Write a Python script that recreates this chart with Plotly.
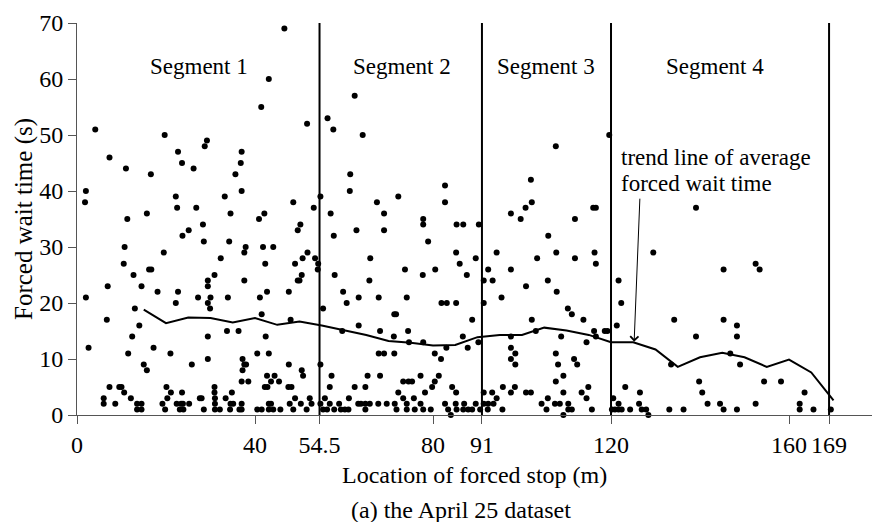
import plotly.graph_objects as go

# ---------------- data ----------------
seg_bounds = [54.5, 91, 120, 169]
seg_names = ["Segment 1", "Segment 2", "Segment 3", "Segment 4"]
seg_label_x = [27.4, 73.0, 105.3, 143.4]

x_tickvals = [0, 40, 54.5, 80, 91, 120, 160, 169]
x_ticktext = ["0", "40", "54.5", "80", "91", "120", "160", "169"]
y_tickvals = [0, 10, 20, 30, 40, 50, 60, 70]

trend_x = [15, 20, 25, 30, 35, 40, 45, 50, 55, 60, 65, 70, 75, 80, 85, 90, 95, 100,
           105, 110, 115, 120, 125, 130, 135, 140, 145, 150, 155, 160, 165, 170]
trend_y = [18.8, 16.4, 17.4, 17.3, 16.5, 17.3, 16.1, 16.7, 16.0, 15.1, 14.3, 13.2, 12.9, 12.4,
           12.5, 13.9, 14.3, 14.3, 15.6, 15.1, 14.3, 13.0, 13.0, 11.7, 8.6, 10.3, 11.1, 10.3,
           8.6, 9.9, 7.6, 2.6]

# segment 1 region (x < 36.5)
pts1 = [(4.1,51),(19.7,50),(29.2,49),(28.7,48),(7.3,46),(22.7,47),(11.0,44),(23.6,45),(26.2,44),
        (35.6,43),(16.6,43),(2.0,40),(1.8,38),(22.2,39),(22.5,37),(26.8,37),(33.2,39),(34.5,36),
        (15.7,36),(11.3,35),(28.3,34),(25.1,33),(23.7,32),(28.5,31),(34.2,31),(10.7,30),(19.5,29),
        (32.3,28),(10.5,27),(16.2,26),(16.7,26),(12.7,25),(30.9,25),(29.4,24),(29.4,23),(6.9,23),
        (14.5,23),(18.1,22),(22.7,22),(2.0,21),(22.2,20),(27.2,21),(30.0,21),(29.4,20),(29.9,19),
        (33.9,21),(13.0,19),(6.7,17),(14.0,16),(33.7,15),(36.3,15),(12.4,14),(29.4,14),(2.6,12),
        (17.2,12),(11.5,11),(21.0,11),(29.4,10),(25.8,9),(15.0,9),(15.7,8),
        (7.3,5),(9.5,5),(10.0,5),(10.6,4),(20.1,5),(21.1,4),(23.6,4),(30.9,5),(30.9,4),(34.8,4),
        (6.0,3),(6.0,2),(8.6,2),(12.1,3),(13.5,2),(14.5,2),(13.5,1),(14.5,1),(19.2,2),(20.3,3),
        (19.8,1),(22.4,2),(23.4,2),(23.8,2),(23.1,1),(23.9,1),(25.2,2),(27.6,3),(28.0,3),(28.5,1),
        (31.0,3),(31.0,2),(31.0,1),(32.1,1),(33.4,3),(34.5,2),(35.1,2),(34.4,1),(36.5,1)]

# 36.5 <= x < 73.5
pts2 = [(46.6,69),(43.1,60),(41.4,55),(51.7,52),(56.3,53),(57.6,51),(62.4,57),(64.2,50),(37.0,47),
        (36.8,45),(37.0,40),(61.4,43),(61.3,40),(54.7,39),(72.2,39),(48.6,38),(53.2,37),(40.9,35),
        (42.1,36),(57.0,36),(67.4,38),(69.0,36),(50.2,34),(49.6,33),(62.8,33),(57.7,32),(69.0,33),
        (37.9,30),(37.6,29),(41.8,30),(44.1,30),(42.3,27),(51.8,29),(50.7,28),(49.0,27),(53.5,28),
        (54.2,27),(54.1,26),(65.9,28),(50.5,25),(50.0,24),(49.6,24),(37.6,24),(57.9,25),(65.7,24),
        (42.7,22),(41.1,21),(47.6,22),(59.8,22),(60.6,20),(63.3,21),(67.8,21),(55.3,19),(41.5,18),
        (48.0,17),(63.3,16),(71.3,18),(71.7,18),(68.1,15),(59.6,15),(42.4,14),(71.2,14),(40.5,11),
        (43.1,11),(67.8,11),(69.0,11),(71.3,11),(54.7,9),(47.6,9),(37.2,10),(37.6,9),(38.0,9),
        (37.2,8),(50.5,8),(50.8,7),(57.2,7),(68.1,7),(65.3,7),(42.7,7),(44.4,7),(43.6,6),(42.2,5),
        (42.8,5),(45.4,6),(47.5,5),(48.2,5),(56.8,5),(62.4,5),(64.8,5),(72.2,4),(73.3,6),(37.0,6),
        (38.5,6),(49.0,3),(52.3,3),(55.7,3),(61.1,3),(73.3,3),
        (37.0,2),(43.1,2),(43.6,2),(47.8,2),(50.3,2),(52.7,2),(54.7,2),(56.8,2),(58.9,2),(63.2,2),
        (63.8,2),(64.8,2),(65.8,2),(67.7,2),(69.6,2),(71.4,2),
        (37.0,1),(40.5,1),(41.5,1),(43.1,1),(44.1,1),(45.7,1),(48.6,1),(51.6,1),(55.3,1),(56.2,1),
        (57.8,1),(59.3,1),(60.2,1),(61.0,1),(64.8,1),(71.8,1)]

# 73.5 <= x < 110.8
pts3 = [(107.6,48),(82.7,41),(82.7,38),(102.0,42),(102.2,38),(100.8,37),(97.5,36),(99.7,35),
        (77.8,35),(77.8,34),(85.3,34),(86.8,34),(90.3,34),(78.9,31),(105.9,32),(85.2,29),(94.3,29),
        (86.0,27),(89.6,28),(103.4,28),(107.7,29),(73.7,26),(80.5,26),(77.7,25),(87.6,25),(92.4,26),
        (91.4,24),(93.4,24),(97.5,26),(100.9,23),(105.8,24),(107.8,22),(74.1,21),(81.9,20),(83.1,20),
        (85.2,20),(91.4,20),(95.4,21),(110.3,19),(88.8,17),(102.2,17),(74.4,15),(103.1,15),(74.6,13),
        (77.8,13),(86.7,14),(90.2,13),(97.5,14),(108.8,14),(83.0,12),(87.8,12),(97.5,12),(98.5,11),
        (97.5,10),(98.5,9),(80.4,11),(81.8,10),(107.6,11),(108.1,9),(74.5,6),(75.3,6),(81.3,7),
        (80.4,6),(79.8,5),(77.2,7),(78.2,4),(84.3,5),(85.2,4),(95.7,5),(98.4,5),(97.5,4),(100.9,4),
        (102.0,4),(105.8,3),(104.4,2),(107.6,6),(109.3,7),(109.3,4),(91.4,4),(93.3,4),(94.3,3),
        (75.7,3),
        (74.1,2),(77.2,2),(82.7,2),(85.1,2),(87.0,2),(89.6,2),(91.4,2),(92.4,2),(93.6,2),(107.4,2),
        (108.5,2),(110.4,2),
        (74.1,1),(75.9,1),(77.8,1),(79.5,1),(83.4,1),(85.3,1),(86.8,1),(87.9,1),(88.8,1),(90.6,1),
        (92.3,1),(95.6,1),(105.5,1),(110.4,1),(111.2,1),
        (84.0,0),(109.3,0)]

# x >= 110.8
pts4 = [(119.6,50),(116.0,37),(116.6,37),(111.9,35),(116.3,29),(116.6,27),(111.9,28),(139.1,37),
        (129.5,29),(121.7,24),(122.3,20),(111.2,18),(113.8,17),(134.2,17),(121.3,16),(116.2,15),
        (118.6,15),(119.2,15),(116.6,14),(139.1,14),(114.5,13),(111.7,10),(112.4,9),(133.5,9),
        (139.8,6),(140.5,4),(114.9,5),(113.4,4),(114.5,3),(123.2,5),(126.5,4),(120.5,3),(121.7,2),
        (126.3,2),(141.7,2),
        (115.7,1),(120.2,1),(120.9,1),(121.7,1),(122.4,1),(124.3,1),(126.9,1),(127.9,1),(133.1,1),
        (136.3,1),(128.4,0),
        (152.5,27),(153.4,26),(145.3,26),(145.3,17),(148.3,16),(148.3,14),(146.8,11),(149.0,9),
        (154.4,6),(158.2,6),(163.5,4),(144.5,2),(152.5,2),(162.4,2),(145.3,1),(148.3,1),(162.4,1),
        (165.5,1),(169.4,1)]

all_pts = pts1 + pts2 + pts3 + pts4
stop_x = [p[0] for p in all_pts]
wait_y = [p[1] for p in all_pts]

# ---------------- figure ----------------
FONT = "Liberation Serif, Times New Roman, serif"
fig = go.Figure()

fig.add_trace(go.Scatter(x=stop_x, y=wait_y, mode="markers",
                         marker=dict(color="black", size=6),
                         cliponaxis=False, showlegend=False, hoverinfo="skip"))
fig.add_trace(go.Scatter(x=trend_x, y=trend_y, mode="lines",
                         line=dict(color="black", width=2),
                         cliponaxis=False, showlegend=False, hoverinfo="skip"))

for b in seg_bounds:
    fig.add_shape(type="line", x0=b, x1=b, y0=0, y1=70, xref="x", yref="y",
                  line=dict(color="black", width=2))

for name, lx in zip(seg_names, seg_label_x):
    fig.add_annotation(x=lx, y=62.3, text=name, showarrow=False,
                       font=dict(family=FONT, size=23, color="black"),
                       xanchor="center", yanchor="middle")

fig.add_annotation(x=121.7, y=46.0, text="trend line of average", showarrow=False,
                   font=dict(family=FONT, size=23, color="black"),
                   xanchor="left", yanchor="middle")
fig.add_annotation(x=121.7, y=41.4, text="forced wait time", showarrow=False,
                   font=dict(family=FONT, size=23, color="black"),
                   xanchor="left", yanchor="middle")
# arrow
fig.add_annotation(x=125.2, y=13.1, ax=126.5, ay=38.9, axref="x", ayref="y",
                   text="", showarrow=True, arrowhead=4, arrowsize=1.6,
                   arrowwidth=1, arrowcolor="black", standoff=0)

# axis titles as annotations
fig.add_annotation(xref="paper", yref="paper", x=0.5, y=0, yshift=-60,
                   text="Location of forced stop (m)", showarrow=False,
                   font=dict(family=FONT, size=24, color="black"),
                   xanchor="center", yanchor="middle")
fig.add_annotation(xref="paper", yref="paper", x=(461 - 77) / 795, y=0, yshift=-95,
                   text="(a) the April 25 dataset", showarrow=False,
                   font=dict(family=FONT, size=24, color="black"),
                   xanchor="center", yanchor="middle")
fig.add_annotation(xref="paper", yref="paper", x=0, xshift=-53, y=0.5,
                   text="Forced wait time (s)", showarrow=False, textangle=-90,
                   font=dict(family=FONT, size=25, color="black"),
                   xanchor="center", yanchor="middle")

fig.update_xaxes(range=[0, 178.65], tickvals=x_tickvals, ticktext=x_ticktext,
                 ticks="outside", ticklen=8, tickcolor="#555", showline=True,
                 linecolor="#555", linewidth=1, showgrid=False, zeroline=False,
                 tickfont=dict(family=FONT, size=24, color="black"))
fig.update_yaxes(range=[0, 70], tickvals=y_tickvals,
                 ticks="outside", ticklen=8, tickcolor="#555", showline=True,
                 linecolor="#555", linewidth=1, showgrid=False, zeroline=False,
                 tickfont=dict(family=FONT, size=24, color="black"))

fig.update_layout(width=872, height=522,
                  margin=dict(l=77, r=0, t=23, b=107),
                  plot_bgcolor="white", paper_bgcolor="white",
                  showlegend=False)

fig.write_html("out.html")
